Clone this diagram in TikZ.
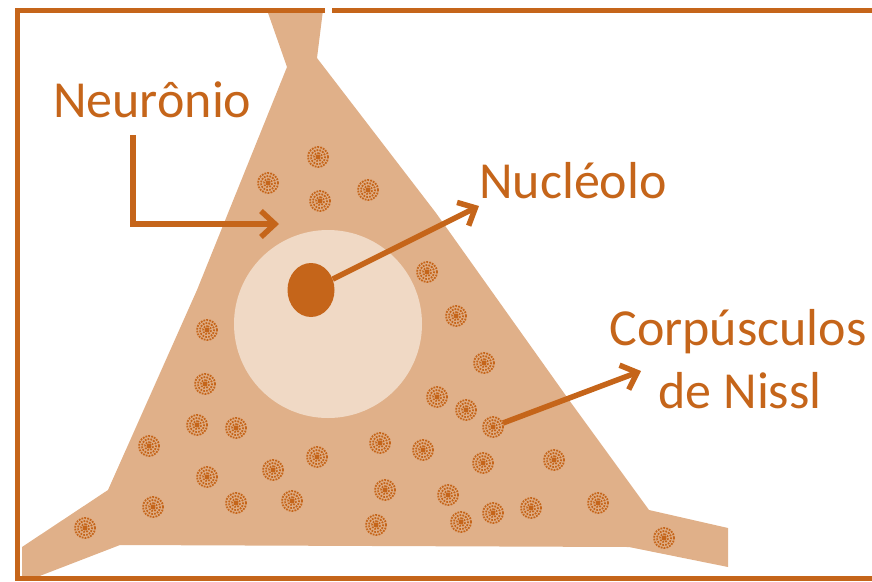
\documentclass[tikz,border=0pt]{standalone}
\usepackage{fontspec}
\setmainfont{Carlito}
\usetikzlibrary{arrows.meta,shapes.geometric}

\definecolor{rust}{HTML}{C5651A}
\definecolor{soma}{HTML}{E0B089}
\definecolor{nucleusfill}{HTML}{F0D9C5}

\begin{document}
\begin{tikzpicture}[x=1pt,y=-1pt,
  label/.style={text=rust,font=\fontsize{52}{63}\selectfont,inner sep=0pt,anchor=base west},
  pointer/.style={draw=rust,line width=5.5pt,-{Straight Barb[length=14pt,width=26pt]}},
  nissl/.style={draw=rust,line width=1.8pt,dash pattern=on 1.8pt off 1.1pt}]
  \useasboundingbox (0,0) rectangle (872,581);

  % Cell body with axon and two dendrites
  \fill[soma] (267,10) -- (287,67) -- (197,290) -- (108,490) -- (22,547)
    -- (22,577) -- (37,577) -- (120,545) -- (629,547) -- (728,567)
    -- (728,528) -- (649,510) -- (569,400) -- (436,213) -- (317,58)
    -- (323,10) -- cycle;

  % Nucleus and nucleolus
  \fill[nucleusfill] (328,324) circle (94pt);
  \node[ellipse,fill=rust,minimum width=47pt,minimum height=54pt,inner sep=0pt]
    (nucleolus) at (311,290) {};

  % Nissl bodies
  \foreach \x/\y in {318/157, 268/183, 320/201, 368/190, 427/272,
                     207/330, 205/384, 197/425, 236/428, 149/446,
                     380/443, 423/450, 317/457, 273/470, 207/477,
                     385/490, 153/507, 236/503, 292/501, 376/525,
                     85/528, 437/397, 456/316, 484/363, 466/410,
                     493/427, 483/463, 554/460, 448/495, 461/522,
                     493/513, 531/508, 598/503, 664/538}{
    \draw[nissl] (\x,\y) circle (10pt);
    \draw[nissl,rotate around={40:(\x,\y)}] (\x,\y) circle (7pt);
    \draw[nissl,rotate around={75:(\x,\y)}] (\x,\y) circle (4pt);
    \fill[rust] (\x,\y) circle (2.5pt);
  }

  % Frame, open where the axon leaves
  \draw[rust,line width=5pt] (325,10) -- (17,10) -- (17,578) -- (880,578);
  \draw[rust,line width=5pt] (332,10) -- (880,10);

  % Labels
  \node[label] (neuron) at (53,117) {Neurônio};
  \node[label] (nucleolo) at (479,198) {Nucléolo};
  \node[label,anchor=base] (corp) at (738,345) {Corpúsculos};
  \node[label,anchor=base] (nissltext) at (740,408) {de Nissl};

  % Pointers
  \coordinate (neuron-start) at (133,135);
  \coordinate (neuron-tip) at (279,224);
  \coordinate (nucleolo-tip) at (479,206);
  \coordinate (nissl-pick) at (503,423);
  \coordinate (nissl-tip) at (641,371);

  \draw[pointer] (neuron-start) |- (neuron-tip);
  \draw[pointer] (nucleolus) -- (nucleolo-tip);
  \draw[pointer] (nissl-pick) -- (nissl-tip);
\end{tikzpicture}
\end{document}
